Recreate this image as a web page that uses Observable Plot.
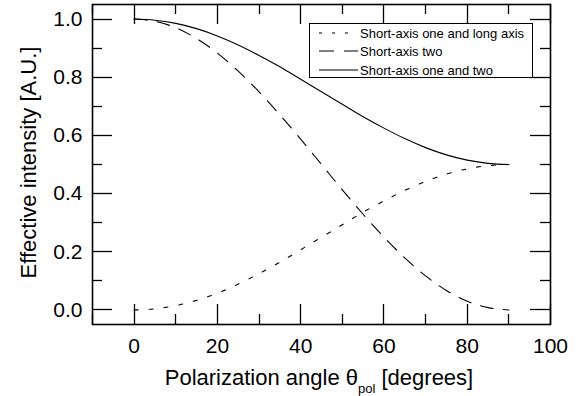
<!DOCTYPE html>
<html><head><meta charset="utf-8">
<script src="https://cdn.jsdelivr.net/npm/d3@7"></script>
<script src="https://cdn.jsdelivr.net/npm/@observablehq/plot@0.6"></script>
<style>body{margin:0;background:#fff}</style>
</head><body><div id="chart"></div>
<script>
// Data
const angles = [0,5,10,15,20,25,30,35,40,45,50,55,60,65,70,75,80,85,90];
const shortOneLong = [0,0.004,0.015,0.033,0.058,0.089,0.125,0.164,0.207,0.25,0.293,0.336,0.375,0.411,0.442,0.467,0.485,0.496,0.5];
const shortTwo = [1,0.992,0.970,0.933,0.883,0.821,0.75,0.671,0.587,0.5,0.413,0.329,0.25,0.179,0.117,0.067,0.030,0.008,0];
const shortOneTwo = [1,0.996,0.985,0.967,0.942,0.911,0.875,0.836,0.793,0.75,0.707,0.664,0.625,0.589,0.558,0.533,0.515,0.504,0.5];
const seriesNames = ["Short-axis one and long axis","Short-axis two","Short-axis one and two"];
const xMajor = [0,20,40,60,80,100];
const xMinor = [-10,10,30,50,70,90];
const yMajor = [0,0.2,0.4,0.6,0.8,1.0];
const yMinor = [0.1,0.3,0.5,0.7,0.9];

const font = "'Liberation Sans', Arial, Helvetica, sans-serif";
const dashes = ["4,11","13,10",null];
const seriesVals = [shortOneLong, shortTwo, shortOneTwo];
const tables = seriesVals.map(vals => angles.map((a,i)=>({a, v: vals[i]})));

const W = 581, H = 396, mL = 92, mR = 31, mT = 4, mB = 72;

const plot = Plot.plot({
  width: W, height: H,
  marginLeft: mL, marginRight: mR, marginTop: mT, marginBottom: mB,
  style: {fontFamily: font, fontSize: "21px", color: "black", background: "white", overflow: "visible"},
  x: {domain: [-10, 100]},
  y: {domain: [-0.05, 1.05]},
  marks: [
    Plot.axisX({anchor: "bottom", ticks: xMajor, tickSize: 0, tickPadding: 14, label: null, tickFormat: d => String(d)}),
    Plot.axisY({anchor: "left", ticks: yMajor, tickSize: 0, tickPadding: 10, label: null, tickFormat: d => d.toFixed(1)}),
    ...tables.map((t,i) => Plot.line(t, {x: "a", y: "v", stroke: "black", strokeWidth: 1.1, strokeDasharray: dashes[i], curve: "monotone-x"})),
    Plot.frame({stroke: "black", strokeWidth: 1.6})
  ]
});
document.getElementById("chart").appendChild(plot);

const svg = d3.select(plot);

// inward ticks on all four sides, positioned through Plot's scales
try {
  const sx = plot.scale("x"), sy = plot.scale("y");
  const fTop = mT, fBottom = H - mB, fLeft = mL, fRight = W - mR;
  const tg = svg.append("g");
  const seg = (x1, y1, x2, y2) => tg.append("line")
    .attr("x1", x1).attr("y1", y1).attr("x2", x2).attr("y2", y2)
    .attr("stroke", "black").attr("stroke-width", 1.3);
  [[xMajor, 20], [xMinor, 10]].forEach(([ticks, len]) => ticks.forEach(v => {
    const px = Math.round(sx.apply(v)) + 0.5;
    seg(px, fBottom, px, fBottom - len);
    seg(px, fTop, px, fTop + len);
  }));
  [[yMajor, 20], [yMinor, 10]].forEach(([ticks, len]) => ticks.forEach(v => {
    const py = Math.round(sy.apply(v)) + 0.5;
    seg(fLeft, py, fLeft + len, py);
    seg(fRight, py, fRight - len, py);
  }));
} catch (e) { console.error(e); }

// axis titles
const xt = svg.append("text").attr("x", 319).attr("y", 385).attr("text-anchor", "middle")
  .attr("font-size", 22).attr("font-family", font).attr("fill", "black");
xt.append("tspan").text("Polarization angle θ");
xt.append("tspan").attr("font-size", 13).attr("dy", 8).text("pol");
xt.append("tspan").attr("dy", -8).text(" [degrees]");
svg.append("text").attr("transform", "translate(36,162.5) rotate(-90)").attr("text-anchor", "middle")
  .attr("font-size", 22).attr("font-family", font).attr("fill", "black").text("Effective intensity [A.U.]");

// legend
const lg = svg.append("g");
lg.append("rect").attr("x", 309.5).attr("y", 23.5).attr("width", 223).attr("height", 54)
  .attr("fill", "white").attr("stroke", "black").attr("stroke-width", 1);
const rows = [33, 51, 70];
seriesNames.forEach((name, i) => {
  lg.append("line").attr("x1", 319).attr("x2", 358).attr("y1", rows[i]).attr("y2", rows[i])
    .attr("stroke", "black").attr("stroke-width", 1.1).attr("stroke-dasharray", i === 0 ? "3,10" : i === 1 ? "15,10" : null);
  lg.append("text").attr("x", 360).attr("y", rows[i]).attr("dy", "0.35em").attr("text-anchor", "start")
    .attr("font-size", 13).attr("font-family", font).attr("fill", "black").text(name);
});
</script></body></html>
